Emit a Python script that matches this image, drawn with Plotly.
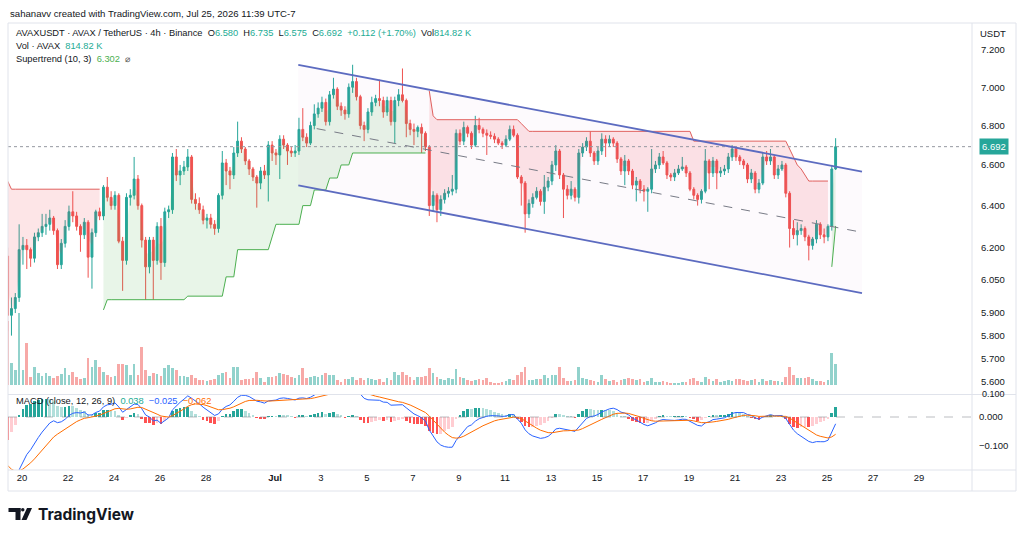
import numpy as np
import pandas as pd
import plotly.graph_objects as go

# AVAXUSDT 4h candles (Binance)
bar_start = "2026-06-19 09:00"
first_open = 6.16
closes = [5.89, 5.92, 5.97, 6.19, 6.21, 6.19, 6.15, 6.25, 6.27, 6.30,
          6.31, 6.34, 6.28, 6.12, 6.22, 6.30, 6.37, 6.35, 6.30, 6.26,
          6.32, 6.155, 6.27, 6.37, 6.35, 6.49, 6.44, 6.40, 6.45, 6.23,
          6.14, 6.44, 6.45, 6.53, 6.40, 6.235, 6.11, 6.235, 6.14, 6.30,
          6.13, 6.37, 6.38, 6.64, 6.55, 6.57, 6.59, 6.64, 6.43, 6.41,
          6.38, 6.33, 6.34, 6.31, 6.29, 6.45, 6.61, 6.57, 6.55, 6.66,
          6.72, 6.68, 6.62, 6.58, 6.54, 6.51, 6.57, 6.55, 6.70, 6.66,
          6.65, 6.73, 6.70, 6.67, 6.66, 6.67, 6.78, 6.74, 6.71, 6.80,
          6.86, 6.89, 6.92, 6.82, 6.96, 6.99, 6.90, 6.88, 6.86, 7.00,
          7.03, 6.95, 6.80, 6.78, 6.87, 6.92, 6.94, 6.93, 6.87, 6.93,
          6.82, 6.93, 6.96, 6.93, 6.81, 6.78, 6.77, 6.79, 6.76, 6.69,
          6.40, 6.45, 6.38, 6.43, 6.46, 6.47, 6.48, 6.76, 6.72, 6.79,
          6.76, 6.70, 6.80, 6.78, 6.76, 6.75, 6.745, 6.73, 6.71, 6.70,
          6.73, 6.78, 6.75, 6.54, 6.51, 6.36, 6.41, 6.44, 6.47, 6.42,
          6.49, 6.52, 6.60, 6.67, 6.55, 6.48, 6.45, 6.48, 6.44, 6.66,
          6.69, 6.72, 6.66, 6.62, 6.67, 6.73, 6.71, 6.73, 6.71, 6.63,
          6.57, 6.62, 6.57, 6.50, 6.52, 6.48, 6.47, 6.48, 6.58, 6.60,
          6.64, 6.61, 6.55, 6.54, 6.56, 6.58, 6.59, 6.56, 6.48, 6.45,
          6.43, 6.47, 6.62, 6.56, 6.62, 6.56, 6.57, 6.58, 6.64, 6.68,
          6.64, 6.62, 6.60, 6.53, 6.56, 6.48, 6.51, 6.64, 6.62, 6.64,
          6.55, 6.58, 6.60, 6.46, 6.29, 6.26, 6.28, 6.29, 6.25, 6.21,
          6.24, 6.31, 6.26, 6.25, 6.30, 6.58, 6.692]
highs = [6.20, 5.97, 5.99, 6.31, 6.25, 6.24, 6.20, 6.27, 6.29, 6.36,
         6.36, 6.38, 6.35, 6.29, 6.24, 6.33, 6.40, 6.47, 6.37, 6.31,
         6.34, 6.33, 6.29, 6.38, 6.39, 6.50, 6.54, 6.47, 6.47, 6.46,
         6.25, 6.46, 6.48, 6.64, 6.55, 6.41, 6.25, 6.25, 6.25, 6.32,
         6.34, 6.39, 6.40, 6.66, 6.68, 6.60, 6.62, 6.68, 6.65, 6.46,
         6.44, 6.40, 6.36, 6.36, 6.33, 6.46, 6.67, 6.63, 6.59, 6.69,
         6.82, 6.74, 6.69, 6.63, 6.59, 6.55, 6.59, 6.60, 6.72, 6.72,
         6.68, 6.75, 6.75, 6.71, 6.69, 6.70, 6.84, 6.89, 6.76, 6.82,
         6.91, 6.92, 6.95, 6.94, 6.98, 7.05, 7.00, 6.92, 6.90, 7.02,
         7.12, 7.05, 6.96, 6.82, 6.89, 6.95, 6.96, 7.04, 6.95, 6.95,
         6.95, 6.95, 6.99, 7.10, 6.94, 6.83, 6.81, 6.80, 6.81, 6.77,
         6.70, 6.47, 6.46, 6.45, 6.48, 6.49, 6.55, 6.78, 6.78, 6.82,
         6.80, 6.77, 6.85, 6.84, 6.79, 6.78, 6.77, 6.76, 6.74, 6.72,
         6.75, 6.80, 6.80, 6.76, 6.55, 6.52, 6.43, 6.46, 6.49, 6.48,
         6.55, 6.54, 6.62, 6.70, 6.68, 6.56, 6.50, 6.52, 6.49, 6.68,
         6.71, 6.74, 6.77, 6.67, 6.69, 6.76, 6.75, 6.75, 6.74, 6.72,
         6.64, 6.65, 6.63, 6.58, 6.54, 6.53, 6.50, 6.49, 6.68, 6.62,
         6.66, 6.67, 6.62, 6.56, 6.58, 6.60, 6.64, 6.60, 6.57, 6.49,
         6.46, 6.48, 6.68, 6.63, 6.64, 6.63, 6.59, 6.60, 6.66, 6.70,
         6.69, 6.65, 6.63, 6.61, 6.58, 6.57, 6.53, 6.66, 6.67, 6.68,
         6.65, 6.60, 6.62, 6.61, 6.47, 6.33, 6.32, 6.31, 6.30, 6.26,
         6.25, 6.33, 6.32, 6.29, 6.31, 6.60, 6.735]
lows = [5.82, 5.80, 5.90, 5.95, 6.12, 6.10, 6.11, 6.13, 6.23, 6.25,
        6.26, 6.28, 6.26, 6.10, 6.10, 6.20, 6.28, 6.32, 6.28, 6.18,
        6.24, 6.06, 6.01, 6.25, 6.33, 6.33, 6.42, 6.38, 6.38, 6.22,
        6.00, 6.12, 6.40, 6.43, 6.38, 6.20, 5.96, 6.08, 5.96, 6.12,
        6.05, 6.11, 6.34, 6.36, 6.52, 6.50, 6.55, 6.57, 6.41, 6.38,
        6.36, 6.31, 6.29, 6.29, 6.26, 6.27, 6.43, 6.50, 6.48, 6.53,
        6.64, 6.66, 6.60, 6.55, 6.52, 6.39, 6.48, 6.53, 6.42, 6.62,
        6.60, 6.53, 6.68, 6.60, 6.64, 6.64, 6.65, 6.72, 6.69, 6.70,
        6.78, 6.84, 6.87, 6.80, 6.80, 6.94, 6.88, 6.85, 6.83, 6.84,
        6.97, 6.93, 6.78, 6.72, 6.76, 6.85, 6.90, 6.90, 6.84, 6.85,
        6.80, 6.71, 6.90, 6.92, 6.74, 6.75, 6.70, 6.74, 6.66, 6.67,
        6.35, 6.37, 6.32, 6.35, 6.41, 6.44, 6.45, 6.46, 6.70, 6.70,
        6.74, 6.68, 6.69, 6.76, 6.74, 6.65, 6.73, 6.71, 6.70, 6.68,
        6.69, 6.72, 6.74, 6.53, 6.40, 6.27, 6.34, 6.39, 6.43, 6.40,
        6.36, 6.47, 6.50, 6.57, 6.53, 6.34, 6.43, 6.43, 6.42, 6.41,
        6.64, 6.67, 6.64, 6.60, 6.60, 6.65, 6.64, 6.69, 6.69, 6.61,
        6.55, 6.50, 6.55, 6.48, 6.42, 6.46, 6.42, 6.37, 6.46, 6.56,
        6.58, 6.60, 6.53, 6.52, 6.52, 6.55, 6.57, 6.54, 6.47, 6.43,
        6.40, 6.41, 6.46, 6.48, 6.54, 6.48, 6.54, 6.55, 6.56, 6.62,
        6.62, 6.60, 6.58, 6.51, 6.51, 6.46, 6.46, 6.50, 6.60, 6.60,
        6.53, 6.53, 6.57, 6.44, 6.20, 6.24, 6.21, 6.26, 6.23, 6.14,
        6.19, 6.22, 6.24, 6.22, 6.23, 6.28, 6.575]
volumes_k = [2500, 840, 580, 2790, 580, 1630, 310, 700, 470, 350,
             470, 350, 270, 350, 430, 660, 390, 500, 310, 230,
             270, 1050, 700, 970, 700, 500, 390, 310, 350, 820,
             820, 780, 390, 820, 390, 1470, 580, 350, 470, 430,
             350, 660, 780, 660, 580, 350, 350, 310, 390, 270,
             190, 190, 160, 190, 230, 390, 470, 500, 270, 700,
             700, 190, 230, 230, 270, 500, 270, 120, 310, 310,
             350, 470, 430, 390, 310, 270, 390, 660, 270, 310,
             350, 310, 390, 470, 390, 390, 190, 120, 230, 230,
             310, 190, 270, 190, 270, 230, 190, 230, 120, 270,
             190, 500, 390, 500, 390, 310, 190, 310, 310, 350,
             660, 470, 310, 230, 190, 270, 230, 620, 310, 270,
             190, 160, 190, 230, 190, 270, 120, 80, 80, 120,
             160, 230, 190, 390, 500, 700, 190, 190, 230, 230,
             390, 270, 390, 390, 700, 270, 160, 160, 190, 700,
             270, 230, 190, 160, 120, 390, 230, 160, 190, 120,
             190, 230, 270, 230, 200, 230, 120, 160, 270, 120,
             120, 160, 120, 80, 80, 80, 120, 120, 230, 270,
             160, 120, 310, 230, 160, 230, 120, 160, 190, 160,
             230, 230, 190, 160, 190, 230, 120, 230, 160, 190,
             160, 160, 120, 310, 700, 390, 270, 270, 270, 310,
             230, 160, 160, 120, 190, 1240, 814.82]

# Supertrend (10, 3): runs of equal level, bar count per run
st_levels = [6.52, 6.48, 5.914, 5.96, 5.976, 6.064, 6.19, 6.25, 6.31, 6.40,
             6.476, 6.535, 6.60, 6.66, 6.98, 6.85, 6.83, 6.81, 6.79, 6.77,
             6.72, 6.68, 6.64, 6.60, 6.58, 6.55, 6.52, 6.11, 6.302]
st_runs = [1, 24, 1, 21, 10, 3, 9, 1, 7, 3,
           4, 3, 3, 20, 1, 1, 22, 1, 1, 43,
           25, 1, 1, 1, 1, 1, 6, 1, 1]
st_flips = [25, 110, 215]   # trend switches here, starts in a down trend

# parallel channel drawing: anchor times / prices
chan_times = ["2026-07-02 00:19", "2026-07-26 12:31"]
chan_upper = [7.119, 6.567]
chan_lower = [6.499, 5.990]
mid_times = ["2026-07-02 19:30", "2026-07-26 12:31"]
chan_mid = [6.784, 6.272]

# MACD (12, 26, 9) state carried in from before the first visible bar
ema_fast_seed = 6.00
ema_slow_seed = 6.26
signal_seed = -0.15

price_ticks = [5.6, 5.7, 5.8, 5.9, 6.05, 6.2, 6.4, 6.6, 6.8, 7.0, 7.2]
date_ticks = ["2026-06-20", "2026-06-22", "2026-06-24", "2026-06-26", "2026-06-28",
              "2026-07-01", "2026-07-03", "2026-07-05", "2026-07-07", "2026-07-09",
              "2026-07-11", "2026-07-13", "2026-07-15", "2026-07-17", "2026-07-19",
              "2026-07-21", "2026-07-23", "2026-07-25", "2026-07-27", "2026-07-29"]
date_labels = ["20", "22", "24", "26", "28", "<b>Jul</b>", "3", "5", "7", "9",
               "11", "13", "15", "17", "19", "21", "23", "25", "27", "29"]

UP, DOWN = "#26a69a", "#ef5350"
TEXT = "#131722"
FONT = "Liberation Sans, Arial, sans-serif"

# ---- derived series ----
t = pd.date_range(bar_start, periods=len(closes), freq="4h")
opens = [first_open] + closes[:-1]
rising = [c >= o for o, c in zip(opens, closes)]
mids = [(o + c) / 2 for o, c in zip(opens, closes)]
st = []
for lv, n in zip(st_levels, st_runs):
    st += [lv] * n


def ema(vals, n, seed):
    a = 2 / (n + 1)
    out, e = [], seed
    for v in vals:
        e += a * (v - e)
        out.append(e)
    return np.array(out)


macd = ema(closes, 12, ema_fast_seed) - ema(closes, 26, ema_slow_seed)
signal = ema(macd, 9, signal_seed)
hist = macd - signal
hist_colors = []
for i, h in enumerate(hist):
    prev = hist[i - 1] if i else h
    if h >= 0:
        hist_colors.append("#26a69a" if h > prev else "#b2dfdb")
    else:
        hist_colors.append("#ffcdd2" if h > prev else "#ff5252")

# ---- pixel calibration of the snapshot ----
L, R, T, B = 8, 972, 23, 470


def px(x):
    return (x - L) / (R - L)


def py(y):
    return (B - y) / (B - T)


def time_at(x):  # Jun 20 sits at x=22, one day = 23 px
    return pd.Timestamp("2026-06-20") + pd.Timedelta(days=(x - 22) / 23)


def logp_at(y):  # 7.200 at y=50, 5.600 at y=382 on a log scale
    k = (np.log10(7.2) - np.log10(5.6)) / (382 - 50)
    return np.log10(7.2) + (50 - y) * k


price_top, price_bot = T, 394
macd_top = 395
vol_base = 385        # pixel row of the volume baseline
vol_k = 38.8          # K of volume per pixel
macd_k = 285.0        # pixels per 1.0 of MACD, zero at y=417
bar_w = 4 * 3600 * 1000 * 0.7

fig = go.Figure()

# volume (base axis, drawn under the price layer)
fig.add_trace(go.Bar(x=t, y=volumes_k, width=bar_w, xaxis="x", yaxis="y",
                     marker=dict(color=["rgba(38,166,154,0.5)" if r else "rgba(239,83,80,0.5)"
                                        for r in rising], line_width=0),
                     hoverinfo="skip"))

# channel background
fig.add_trace(go.Scatter(x=chan_times + chan_times[::-1], y=chan_upper + chan_lower[::-1],
                         fill="toself", fillcolor="rgba(200,120,190,0.035)", mode="none",
                         xaxis="x", yaxis="y3", hoverinfo="skip"))

# supertrend fills and lines
bounds = [0] + st_flips + [len(closes)]
for k in range(len(bounds) - 1):
    a, b = bounds[k], bounds[k + 1]
    is_up = k % 2 == 1
    seg_t = list(t[a:b])
    fig.add_trace(go.Scatter(x=seg_t + seg_t[::-1], y=st[a:b] + mids[a:b][::-1],
                             fill="toself", mode="none", xaxis="x", yaxis="y3",
                             fillcolor="rgba(76,175,80,0.13)" if is_up else "rgba(242,54,69,0.13)",
                             hoverinfo="skip"))
    fig.add_trace(go.Scatter(x=seg_t, y=st[a:b], mode="lines", xaxis="x", yaxis="y3",
                             line=dict(color="#4caf50" if is_up else "#e0605e", width=1),
                             hoverinfo="skip"))

# last price dotted line
fig.add_trace(go.Scatter(x=[time_at(L), time_at(R)], y=[closes[-1]] * 2, mode="lines",
                         xaxis="x", yaxis="y3", line=dict(color="#9598a1", width=1, dash="dot"),
                         hoverinfo="skip"))

fig.add_trace(go.Candlestick(
    x=t, open=opens, high=highs, low=lows, close=closes, xaxis="x", yaxis="y3",
    increasing=dict(line=dict(color=UP, width=1), fillcolor=UP),
    decreasing=dict(line=dict(color=DOWN, width=1), fillcolor=DOWN),
    whiskerwidth=0, hoverinfo="skip"))

# channel lines
for ys in (chan_upper, chan_lower):
    fig.add_trace(go.Scatter(x=chan_times, y=ys, mode="lines", xaxis="x", yaxis="y3",
                             line=dict(color="#5c6bc0", width=1.8), hoverinfo="skip"))
fig.add_trace(go.Scatter(x=mid_times, y=chan_mid, mode="lines", xaxis="x", yaxis="y3",
                         line=dict(color="#787b86", width=1, dash="dash"), hoverinfo="skip"))

# MACD pane
fig.add_trace(go.Bar(x=t, y=hist, width=bar_w, xaxis="x", yaxis="y2",
                     marker=dict(color=hist_colors, line_width=0), hoverinfo="skip"))
fig.add_trace(go.Scatter(x=t, y=macd, mode="lines", xaxis="x", yaxis="y2",
                         line=dict(color="#2962ff", width=1), hoverinfo="skip"))
fig.add_trace(go.Scatter(x=t, y=signal, mode="lines", xaxis="x", yaxis="y2",
                         line=dict(color="#ff6d00", width=1), hoverinfo="skip"))

tick_font = dict(size=9.5, color=TEXT, family=FONT)
fig.update_layout(
    width=1024, height=537,
    margin=dict(l=L, r=1024 - R, t=T, b=537 - B, autoexpand=False),
    paper_bgcolor="white", plot_bgcolor="white",
    showlegend=False, bargap=0,
    font=dict(family=FONT, size=10, color=TEXT),
    xaxis=dict(type="date", range=[time_at(L), time_at(R)], anchor="y2",
               tickmode="array", tickvals=date_ticks, ticktext=date_labels,
               showgrid=False, zeroline=False, showline=False, ticks="",
               tickfont=tick_font, rangeslider=dict(visible=False)),
    yaxis=dict(domain=[py(price_bot), 1], visible=False, fixedrange=True,
               range=[-(price_bot - vol_base) * vol_k, (vol_base - price_top) * vol_k]),
    yaxis3=dict(overlaying="y", side="right", anchor="x", type="log",
                range=[logp_at(price_bot), logp_at(price_top)],
                tickmode="array", tickvals=price_ticks,
                ticktext=[f"{v:.3f}" for v in price_ticks],
                showgrid=False, zeroline=False, showline=False, ticks="",
                ticklabelstandoff=8, tickfont=tick_font),
    yaxis2=dict(domain=[0, py(macd_top)], side="right", anchor="x",
                range=[-(B - 417) / macd_k, (417 - macd_top) / macd_k],
                tickmode="array", tickvals=[-0.1, 0.0], ticktext=["\u22120.100", "0.000"],
                showgrid=False, zeroline=False, showline=False, ticks="",
                ticklabelstandoff=6, tickfont=tick_font),
)

G = "#22ab94"
S = "\u00a0"


def span(txt, col):
    return f'<span style="color:{col}">{txt}</span>'


notes = [
    ("sahanavv created with TradingView.com, Jul 25, 2026 11:39 UTC-7", 8, 14, 9.6),
    ("AVAXUSDT \u00b7 AVAX / TetherUS \u00b7 4h \u00b7 Binance" + S * 2
     + "O" + span("6.580", G) + S * 2 + "H" + span("6.735", G) + S * 2
     + "L" + span("6.575", G) + S * 2 + "C" + span("6.692", G) + S * 2
     + span("+0.112 (+1.70%)", G) + S * 2 + "Vol" + span("814.82" + S + "K", G), 14, 33, 9.3),
    ("Vol \u00b7 AVAX" + S * 2 + span("814.82" + S + "K", G), 14, 46, 9.3),
    ("Supertrend (10, 3)" + S * 2 + span("6.302", "#4caf50") + S * 2 + span("\u2300", "#555"), 14, 59, 9.3),
    ("MACD (close, 12, 26, 9)" + S * 2 + span("0.038", G) + S * 2
     + span("\u22120.025", "#2962ff") + S * 2 + span("\u22120.062", "#ff6d00"), 14, 401, 9.3),
    ("0.100", 980, 394, 9),
]
for txt, x, y, size in notes:
    fig.add_annotation(text=txt, x=px(x), y=py(y), xref="paper", yref="paper",
                       xanchor="left", yanchor="middle", showarrow=False,
                       font=dict(size=size, color=TEXT, family=FONT))
fig.add_annotation(text="USDT", x=px(993), y=py(33), xref="paper", yref="paper",
                   xanchor="center", yanchor="middle", showarrow=False,
                   font=dict(size=9.5, color=TEXT, family=FONT))
fig.add_annotation(text="<b>TradingView</b>", x=px(36), y=py(514), xref="paper", yref="paper",
                   xanchor="left", yanchor="middle", showarrow=False,
                   font=dict(size=15.5, color=TEXT, family="Inter, Roboto, sans-serif"))
fig.add_annotation(text=f"{closes[-1]:.3f}", x=px(979), y=np.log10(closes[-1]),
                   xref="paper", yref="y3", xanchor="left", yanchor="middle",
                   showarrow=False, bgcolor=UP, borderpad=2,
                   font=dict(size=9.5, color="white", family=FONT))

frame = "#e0e3eb"
shapes = [
    dict(type="rect", xref="paper", yref="paper", x0=px(8), x1=px(1016), y0=py(491), y1=py(23),
         line=dict(color=frame, width=1)),
    dict(type="line", xref="paper", yref="paper", x0=px(972), x1=px(972), y0=py(491), y1=py(23),
         line=dict(color=frame, width=1)),
    dict(type="line", xref="paper", yref="paper", x0=px(8), x1=px(1016), y0=py(394.5), y1=py(394.5),
         line=dict(color=frame, width=1)),
    dict(type="line", xref="paper", yref="paper", x0=px(8), x1=px(1016), y0=py(470), y1=py(470),
         line=dict(color=frame, width=1)),
    dict(type="line", xref="paper", yref="y2", x0=0, x1=1, y0=0, y1=0,
         line=dict(color="rgba(120,123,134,0.5)", width=1, dash="dash")),
    # TradingView mark
    dict(type="rect", xref="paper", yref="paper", x0=px(8.5), x1=px(20.5), y0=py(512), y1=py(508),
         fillcolor=TEXT, line_width=0),
    dict(type="rect", xref="paper", yref="paper", x0=px(15.5), x1=px(20.5), y0=py(520), y1=py(508),
         fillcolor=TEXT, line_width=0),
    dict(type="circle", xref="paper", yref="paper", x0=px(21), x1=px(24.5), y0=py(511.5), y1=py(508),
         fillcolor=TEXT, line_width=0),
    dict(type="path", xref="paper", yref="paper",
         path=f"M {px(27)},{py(508)} L {px(32)},{py(508)} L {px(26.5)},{py(520)} L {px(21.5)},{py(520)} Z",
         fillcolor=TEXT, line_width=0),
]
fig.update_layout(shapes=shapes)

# the snapshot has no page margin around the chart
fig.write_html("out.html", config={"displayModeBar": False},
               post_script="document.body.style.margin='0';")
